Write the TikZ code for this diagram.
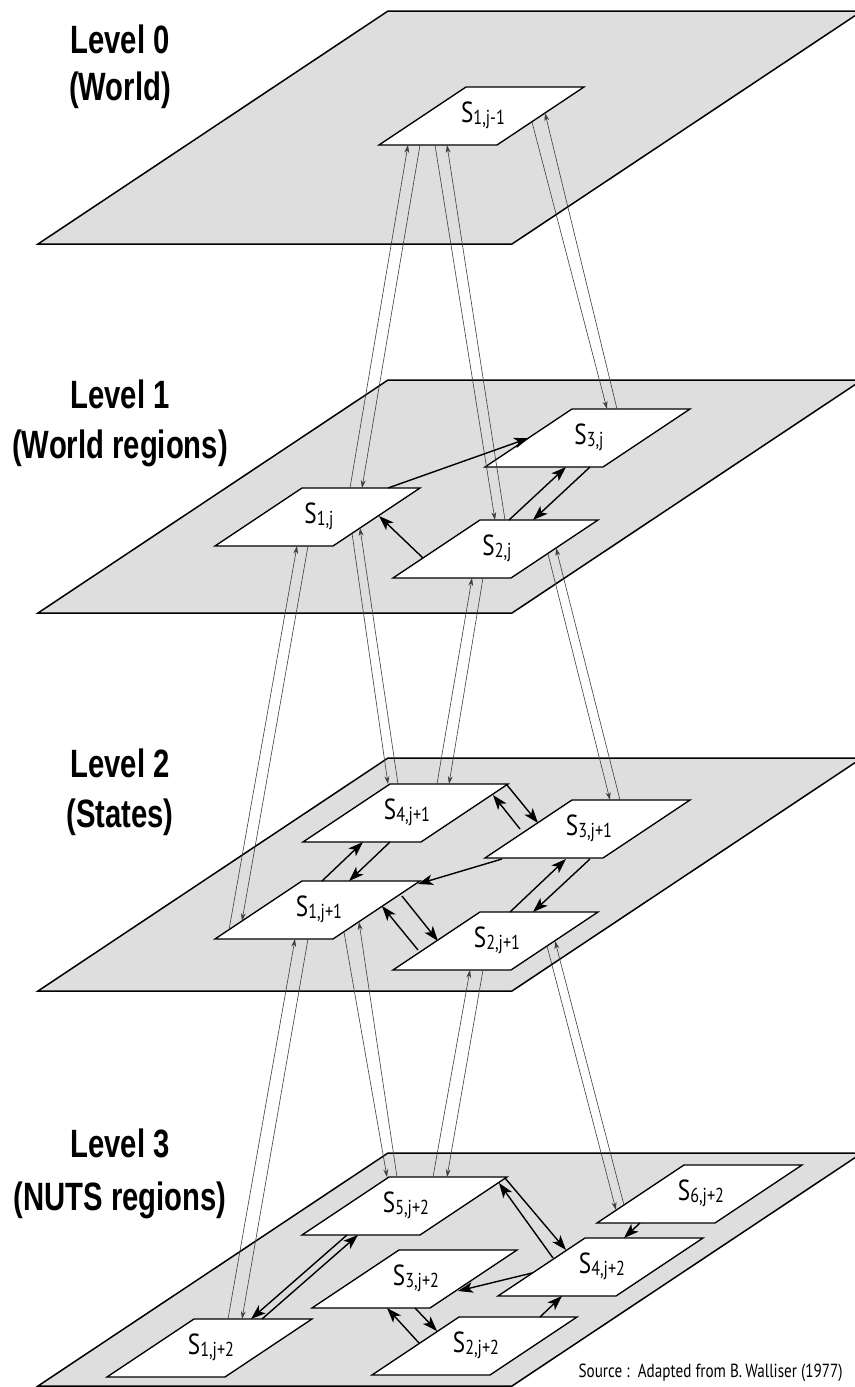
\documentclass[tikz,border=0pt]{standalone}
\usepackage{fontspec}
\usetikzlibrary{arrows.meta}
\newfontfamily\levelfont[FakeStretch=0.74]{Liberation Sans}
\newfontfamily\boxfont[FakeStretch=0.8]{PT Sans}
\definecolor{planegray}{gray}{0.87}
\newcommand{\regsub}[1]{\raisebox{-1.2pt}{\fontsize{11.5}{12}\selectfont #1}}
\begin{document}
\begin{tikzpicture}[x=0.02cm, y=-0.02cm,
  plane/.style={draw, fill=planegray, line width=0.85pt},
  regionbox/.style={draw, fill=white, line width=0.75pt},
  regionlabel/.style={font=\boxfont\fontsize{16.5}{17}\selectfont, inner sep=0pt},
  levellabel/.style={font=\levelfont\bfseries\fontsize{22.5}{25}\selectfont, anchor=base, inner sep=0pt},
  flow/.style={line width=0.35pt, black!75, -{Stealth[length=4.5pt,width=2.8pt]}},
  link/.style={line width=0.8pt, -{Stealth[length=8.5pt,width=6pt,inset=2.2pt]}}]
  \useasboundingbox (0,0) rectangle (855,1387);
  \clip (0,0) rectangle (855,1387);
  % Planes
  \foreach \y in {244,613,991,1386} {
    \draw[plane] (38,\y) -- ++(474,0) -- ++(350,-233) -- ++(-474,0) -- cycle;
  }
  % Level names
  \node[levellabel] (lv0) at (120,53) {Level 0};
  \node[levellabel] (lv0n) at (120,100) {(World)};
  \node[levellabel] (lv1) at (120,408) {Level 1};
  \node[levellabel] (lv1n) at (120,458) {(World regions)};
  \node[levellabel] (lv2) at (120,777) {Level 2};
  \node[levellabel] (lv2n) at (120,827) {(States)};
  \node[levellabel] (lv3) at (120,1157) {Level 3};
  \node[levellabel] (lv3n) at (120,1210) {(NUTS regions)};
  % Regions
  \foreach \n/\x/\y/\t in {s0a/379/145/{1,j-1},
      s1a/215/546/{1,j}, s1b/393/578/{2,j}, s1c/485/467/{3,j},
      s2a/215/939/{1,j+1}, s2b/393/970/{2,j+1}, s2c/485/858/{3,j+1}, s2d/303/842/{4,j+1},
      s3a/107/1377/{1,j+2}, s3b/372/1375/{2,j+2}, s3c/312/1308/{3,j+2},
      s3d/498/1296/{4,j+2}, s3e/302/1235/{5,j+2}, s3f/597/1223/{6,j+2}} {
    \draw[regionbox] (\x,\y) -- ++(118,0) -- ++(87,-58) -- ++(-118,0) -- cycle;
    \node[regionlabel] (\n) at (\x+104,\y-30) {S\regsub{\t}};
  }
  % Level 0 - Level 1
  \draw[flow] ([shift={(31,-28)}]s1a.center) -- ([shift={(-75,30)}]s0a.center);
  \draw[flow] ([shift={(-63,30)}]s0a.center) -- ([shift={(43,-28)}]s1a.center);
  \draw[flow] ([shift={(8,-28)}]s1b.center) -- ([shift={(-36,30)}]s0a.center);
  \draw[flow] ([shift={(-48,30)}]s0a.center) -- ([shift={(-2,-28)}]s1b.center);
  \draw[flow] ([shift={(28,-28)}]s1c.center) -- ([shift={(62,-2)}]s0a.center);
  \draw[flow] ([shift={(49,7)}]s0a.center) -- ([shift={(18,-28)}]s1c.center);
  % Level 1 - Level 2
  \draw[flow] ([shift={(-90,21)}]s2a.center) -- ([shift={(-22,30)}]s1a.center);
  \draw[flow] ([shift={(-11,30)}]s1a.center) -- ([shift={(-77,12)}]s2a.center);
  \draw[flow] ([shift={(-9,-28)}]s2d.center) -- ([shift={(41,12)}]s1a.center);
  \draw[flow] ([shift={(33,17)}]s1a.center) -- ([shift={(-19,-28)}]s2d.center);
  \draw[flow] ([shift={(30,-28)}]s2d.center) -- ([shift={(-25,30)}]s1b.center);
  \draw[flow] ([shift={(-14,30)}]s1b.center) -- ([shift={(42,-28)}]s2d.center);
  \draw[flow] ([shift={(31,-28)}]s2c.center) -- ([shift={(59,0)}]s1b.center);
  \draw[flow] ([shift={(51,6)}]s1b.center) -- ([shift={(21,-28)}]s2c.center);
  % Level 2 - Level 3
  \draw[flow] ([shift={(17,-28)}]s3a.center) -- ([shift={(-24,30)}]s2a.center);
  \draw[flow] ([shift={(-11,30)}]s2a.center) -- ([shift={(31,-28)}]s3a.center);
  \draw[flow] ([shift={(-9,-28)}]s3e.center) -- ([shift={(40,13)}]s2a.center);
  \draw[flow] ([shift={(25,23)}]s2a.center) -- ([shift={(-19,-28)}]s3e.center);
  \draw[flow] ([shift={(27,-28)}]s3e.center) -- ([shift={(-27,30)}]s2b.center);
  \draw[flow] ([shift={(-14,30)}]s2b.center) -- ([shift={(41,-28)}]s3e.center);
  \draw[flow] ([shift={(-77,12)}]s3f.center) -- ([shift={(58,1)}]s2b.center);
  \draw[flow] ([shift={(50,6)}]s2b.center) -- ([shift={(-85,17)}]s3f.center);
  % Links within level 1
  \draw[link] ([shift={(69,-28)}]s1a.center) -- ([shift={(-60,1)}]s1c.center);
  \draw[link] ([shift={(-74,10)}]s1b.center) -- ([shift={(60,0)}]s1a.center);
  \draw[link] ([shift={(12,-28)}]s1b.center) -- ([shift={(-23,30)}]s1c.center);
  \draw[link] ([shift={(1,30)}]s1c.center) -- ([shift={(36,-28)}]s1b.center);
  % Links within level 2
  \draw[link] ([shift={(3,-28)}]s2a.center) -- ([shift={(-44,30)}]s2d.center);
  \draw[link] ([shift={(-17,30)}]s2d.center) -- ([shift={(30,-28)}]s2a.center);
  \draw[link] ([shift={(-69,1)}]s2c.center) -- ([shift={(86,-17)}]s2d.center);
  \draw[link] ([shift={(100,-27)}]s2d.center) -- ([shift={(-51,-5)}]s2c.center);
  \draw[link] ([shift={(-87,31)}]s2c.center) -- ([shift={(99,-25)}]s2a.center);
  \draw[link] ([shift={(-79,10)}]s2b.center) -- ([shift={(63,-3)}]s2a.center);
  \draw[link] ([shift={(83,-13)}]s2a.center) -- ([shift={(-59,1)}]s2b.center);
  \draw[link] ([shift={(13,-28)}]s2b.center) -- ([shift={(-23,31)}]s2c.center);
  \draw[link] ([shift={(1,31)}]s2c.center) -- ([shift={(36,-28)}]s2b.center);
  % Links within level 3
  \draw[link] ([shift={(51,-28)}]s3a.center) -- ([shift={(-48,30)}]s3e.center);
  \draw[link] ([shift={(-59,30)}]s3e.center) -- ([shift={(40,-28)}]s3a.center);
  \draw[link] ([shift={(-49,-8)}]s3d.center) -- ([shift={(93,-22)}]s3e.center);
  \draw[link] ([shift={(99,-27)}]s3e.center) -- ([shift={(-36,-16)}]s3d.center);
  \draw[link] ([shift={(-70,7)}]s3d.center) -- ([shift={(42,13)}]s3c.center);
  \draw[link] ([shift={(-57,-2)}]s3b.center) -- ([shift={(-29,30)}]s3c.center);
  \draw[link] ([shift={(-1,30)}]s3c.center) -- ([shift={(-39,-14)}]s3b.center);
  \draw[link] ([shift={(64,-28)}]s3b.center) -- ([shift={(-40,30)}]s3d.center);
  \draw[link] ([shift={(-61,30)}]s3f.center) -- ([shift={(22,-28)}]s3d.center);
  % Source
  \node[font=\boxfont\fontsize{10.8}{12}\selectfont, anchor=base east, inner sep=0pt] (src) at (843,1377) {Source :\ \ Adapted from B.\,Walliser (1977)};
\end{tikzpicture}
\end{document}
